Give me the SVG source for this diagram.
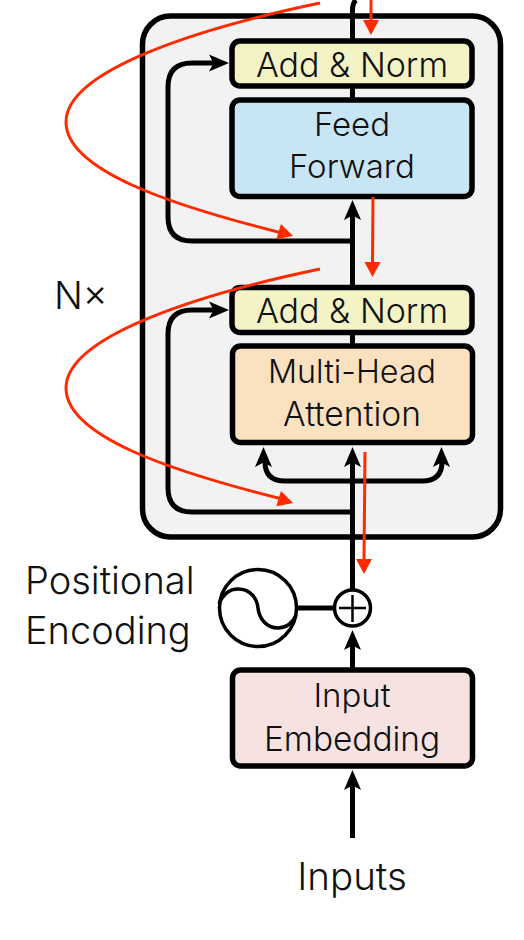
<svg xmlns="http://www.w3.org/2000/svg" width="524" height="940" viewBox="0 0 524 940">
<style>
.box{stroke:#000;stroke-width:5.5}
.l{fill:none;stroke:#000;stroke-width:5}
.r{fill:none;stroke:#ff2a00;stroke-width:3}
.t{font-family:"Inter","Liberation Sans",sans-serif;font-weight:300;font-size:33px;fill:#111;text-anchor:middle}
.b{font-size:38px;text-anchor:start}
</style>
<defs>
<path id="ah" d="M0 0L8.5 20L0 15.5L-8.5 20Z" fill="#000"/>
<path id="rh" d="M-8 -15L8 -15L0 0Z" fill="#ff2a00"/>
</defs>
<g id="encoder-frame"><rect x="142.500" y="16" width="358" height="521" rx="28" fill="#f2f2f2" stroke="#000" stroke-width="5.500"/></g>
<g id="connectors">
<path class="l" d="M356 0Q352.500 3 352.500 10V41M352.500 86V100M352.500 215V287M352.500 332V346M352.500 462V590M352.500 645V670M352.500 785V838"/>
<path class="l" d="M352.500 241H192Q168 241 168 217V87Q168 63 192 63H215"/>
<path class="l" d="M352.500 512H192Q168 512 168 488V334Q168 310 192 310H215"/>
<path class="l" stroke-width="4" d="M265 462Q265 481 285 481H422Q442 481 442 462"/>
<path class="l" d="M297 608H334"/>
<use href="#ah" x="229" y="63" transform="rotate(90 229 63)"/>
<use href="#ah" x="229" y="310" transform="rotate(90 229 310)"/>
<use href="#ah" x="352.500" y="200"/>
<use href="#ah" x="352.500" y="447"/>
<use href="#ah" x="263.500" y="447"/>
<use href="#ah" x="441.500" y="447"/>
<use href="#ah" x="352.500" y="630"/>
<use href="#ah" x="352.500" y="770"/>
</g>
<g id="add-norm-1"><rect class="box" x="232" y="41" width="240" height="45" rx="8" fill="#f3f3c6"/><text class="t" x="352" y="77" style="font-size:34px">Add &amp; Norm</text></g>
<g id="feed-forward"><rect class="box" x="232" y="100" width="240" height="96.500" rx="8" fill="#c8e5f5"/><text class="t" x="352" y="136">Feed</text><text class="t" x="352" y="178">Forward</text></g>
<g id="add-norm-2"><rect class="box" x="232" y="287.500" width="240" height="45" rx="8" fill="#f3f3c6"/><text class="t" x="352" y="323" style="font-size:34px">Add &amp; Norm</text></g>
<g id="multi-head-attention"><rect class="box" x="232.500" y="346" width="240" height="96.500" rx="8" fill="#fae1bf"/><text class="t" x="352" y="383" style="font-size:32.300px">Multi-Head</text><text class="t" x="352" y="426" style="font-size:33.600px">Attention</text></g>
<g id="input-embedding"><rect class="box" x="232.500" y="670" width="240" height="96" rx="8" fill="#f7e2e2"/><text class="t" x="352" y="707">Input</text><text class="t" x="352" y="751" style="font-size:33.400px">Embedding</text></g>
<g id="positional-encoding"><circle cx="258" cy="608" r="38.500" fill="#fff" stroke="#000" stroke-width="3.500"/><path d="M219 604C224 592 232 589 238 589C250 589 257 598 258 608C259 618 266 628 278 628C286 628 293 623 296 615" fill="none" stroke="#000" stroke-width="3.500"/><text class="t b" x="25" y="594">Positional</text><text class="t b" x="25" y="644">Encoding</text></g>
<g id="add"><circle cx="352.500" cy="608" r="18" fill="#fff" stroke="#000" stroke-width="3.500"/><path d="M339 608H366M352.500 595V622" stroke="#000" stroke-width="2.500"/></g>
<g id="nx"><text class="t b" x="54" y="309">N×</text></g>
<g id="inputs"><text class="t" x="352" y="890" style="font-size:38.500px">Inputs</text></g>
<g id="red-annotations">
<path class="r" d="M320 3C200 28 66 70 66 122C66 170 170 205 282 233"/>
<path class="r" d="M320 269C200 294 66 336 66 388C66 436 170 471 282 499"/>
<path class="r" d="M371 0V22M373 197L372.500 264M365 452L364 559"/>
<use href="#rh" x="371" y="35"/>
<use href="#rh" x="372.500" y="277"/>
<use href="#rh" x="364" y="574"/>
<use href="#rh" transform="translate(293 236) rotate(-73)"/>
<use href="#rh" transform="translate(293 503) rotate(-73)"/>
</g>
</svg>
